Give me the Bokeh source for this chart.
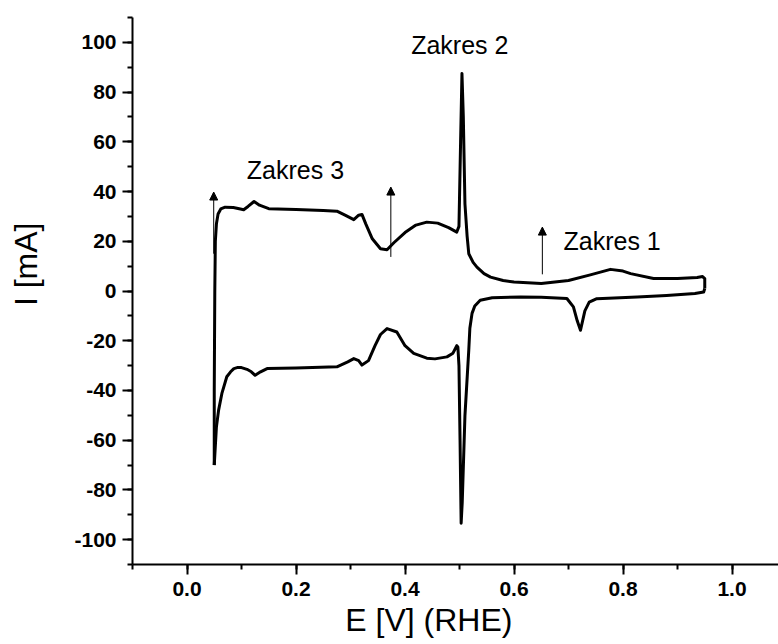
import math
from bokeh.plotting import figure
from bokeh.models import (Range1d, Arrow, NormalHead, ColumnDataSource,
                          SingleIntervalTicker, FixedTicker, LinearAxis,
                          CustomJSTickFormatter)
from bokeh.core.properties import value
from bokeh.embed import file_html
from bokeh.resources import INLINE

# ---- data ----
e_anodic = [0.050, 0.050, 0.051, 0.052, 0.054, 0.057, 0.062, 0.070, 0.085, 0.098,
            0.104, 0.112, 0.123, 0.133, 0.150, 0.200, 0.250, 0.275, 0.290, 0.306,
            0.315, 0.321, 0.328, 0.340, 0.355, 0.367, 0.380, 0.400, 0.420, 0.440,
            0.460, 0.480, 0.495, 0.499, 0.502, 0.5045, 0.507, 0.510, 0.514, 0.517,
            0.525, 0.532, 0.545, 0.557, 0.580, 0.600, 0.650, 0.700, 0.740, 0.777,
            0.800, 0.814, 0.856, 0.900, 0.936, 0.946, 0.950, 0.950]
i_anodic = [-70.0, -40.0, 0.0, 20.0, 27.0, 31.0, 33.0, 33.7, 33.6, 33.0,
            32.7, 34.0, 36.0, 34.5, 33.1, 32.8, 32.4, 32.1, 30.5, 28.7,
            30.5, 30.8, 27.0, 21.0, 17.0, 16.6, 19.5, 23.5, 26.5, 27.7,
            27.3, 25.5, 23.7, 26.0, 60.0, 87.5, 70.0, 35.0, 22.0, 15.0,
            11.5, 9.6, 7.0, 5.6, 4.2, 3.6, 3.0, 4.2, 6.5, 8.7,
            8.0, 7.0, 5.0, 5.0, 5.4, 5.8, 5.0, 1.0]

e_cathodic = [0.950, 0.948, 0.932, 0.880, 0.826, 0.752, 0.738, 0.730, 0.722, 0.716,
              0.709, 0.697, 0.650, 0.612, 0.560, 0.538, 0.528, 0.523, 0.519, 0.517,
              0.510, 0.505, 0.503, 0.501, 0.499, 0.497, 0.495, 0.488, 0.477, 0.455,
              0.440, 0.416, 0.400, 0.385, 0.367, 0.355, 0.345, 0.333, 0.321, 0.315,
              0.306, 0.295, 0.275, 0.200, 0.147, 0.135, 0.125, 0.118, 0.110, 0.100,
              0.092, 0.086, 0.080, 0.073, 0.064, 0.058, 0.054, 0.050]
i_cathodic = [1.0, -0.4, -1.0, -1.8, -2.4, -3.1, -4.5, -8.0, -15.8, -12.0,
              -6.4, -3.0, -2.5, -2.4, -2.7, -3.7, -6.0, -9.0, -15.0, -23.8,
              -50.0, -85.0, -93.4, -60.0, -30.0, -22.5, -22.0, -25.0, -26.5, -27.3,
              -27.0, -25.1, -22.0, -16.5, -15.1, -17.5, -22.0, -28.0, -29.8, -28.0,
              -27.2, -28.5, -30.5, -31.0, -31.2, -32.5, -33.9, -32.5, -31.5, -30.8,
              -30.8, -31.2, -32.5, -34.5, -41.2, -47.9, -54.6, -70.0]

region_labels = ["Zakres 3", "Zakres 2", "Zakres 1"]
region_label_x = [0.199, 0.5005, 0.780]
region_label_y = [48.7, 99.0, 20.2]

arrow_x = [0.049, 0.374, 0.652]
arrow_y_start = [15.0, 13.7, 6.7]
arrow_y_end = [39.8, 41.8, 25.7]

x_title = "E [V] (RHE)"
y_title = "I [mA]"

FONT = "Liberation Sans"
NBSP = "\u00a0"

p = figure(width=778, height=644, output_backend="svg", toolbar_location=None,
           x_range=Range1d(-0.1, 1.0853), y_range=Range1d(-110, 110),
           min_border_left=132, min_border_right=0, min_border_top=17,
           min_border_bottom=80)
p.outline_line_color = None
p.grid.visible = False
p.background_fill_color = "white"
p.border_fill_color = "white"

p.line(e_anodic, i_anodic, line_color="black", line_width=3, line_join="round")
p.line(e_cathodic, i_cathodic, line_color="black", line_width=3, line_join="round")

src = ColumnDataSource(dict(x=arrow_x, y0=arrow_y_start, y1=arrow_y_end))
p.add_layout(Arrow(source=src, x_start="x", y_start="y0", x_end="x", y_end="y1",
                   line_color="black", line_width=1,
                   end=NormalHead(size=8, fill_color="black", line_color="black",
                                  line_width=1)))

p.text(x=region_label_x, y=region_label_y, text=region_labels,
       text_font=value(FONT), text_font_size="25px", text_color="black",
       text_align="center", text_baseline="middle")

for ax in (p.xaxis[0], p.yaxis[0]):
    ax.axis_line_width = 2
    ax.axis_line_color = "black"
    ax.major_tick_line_width = 2
    ax.minor_tick_line_width = 2
    ax.major_tick_out = 10
    ax.major_tick_in = 0
    ax.minor_tick_out = 5
    ax.minor_tick_in = 0
    ax.major_label_text_font = FONT
    ax.major_label_text_font_style = "bold"
    ax.major_label_text_font_size = "21px"
    ax.major_label_text_color = "black"

p.xaxis[0].ticker = SingleIntervalTicker(interval=0.2, num_minor_ticks=2)
p.yaxis[0].ticker = SingleIntervalTicker(interval=20, num_minor_ticks=2)
p.xaxis[0].major_label_standoff = 7
p.yaxis[0].major_label_standoff = 6
p.xaxis[0].formatter = CustomJSTickFormatter(code="return tick.toFixed(1);")
p.yaxis[0].formatter = CustomJSTickFormatter(code="return tick.toFixed(0);")


def title_axis(label, standoff):
    return LinearAxis(ticker=FixedTicker(ticks=[]),
                      axis_label=label, axis_label_standoff=standoff,
                      axis_label_text_font=FONT, axis_label_text_font_size="32px",
                      axis_label_text_font_style="normal",
                      axis_label_text_color="black",
                      axis_line_color=None, major_tick_line_color=None,
                      minor_tick_line_color=None, major_label_text_font_size="0px",
                      major_tick_out=0, minor_tick_out=0, major_label_standoff=0)


# label-only axes; non-breaking spaces shift the centred titles like the reference
p.add_layout(title_axis(x_title + NBSP * 6, 3), "below")
p.add_layout(title_axis(NBSP * 6 + y_title, 28), "left")

open("out.html", "w").write(file_html(p, INLINE))
